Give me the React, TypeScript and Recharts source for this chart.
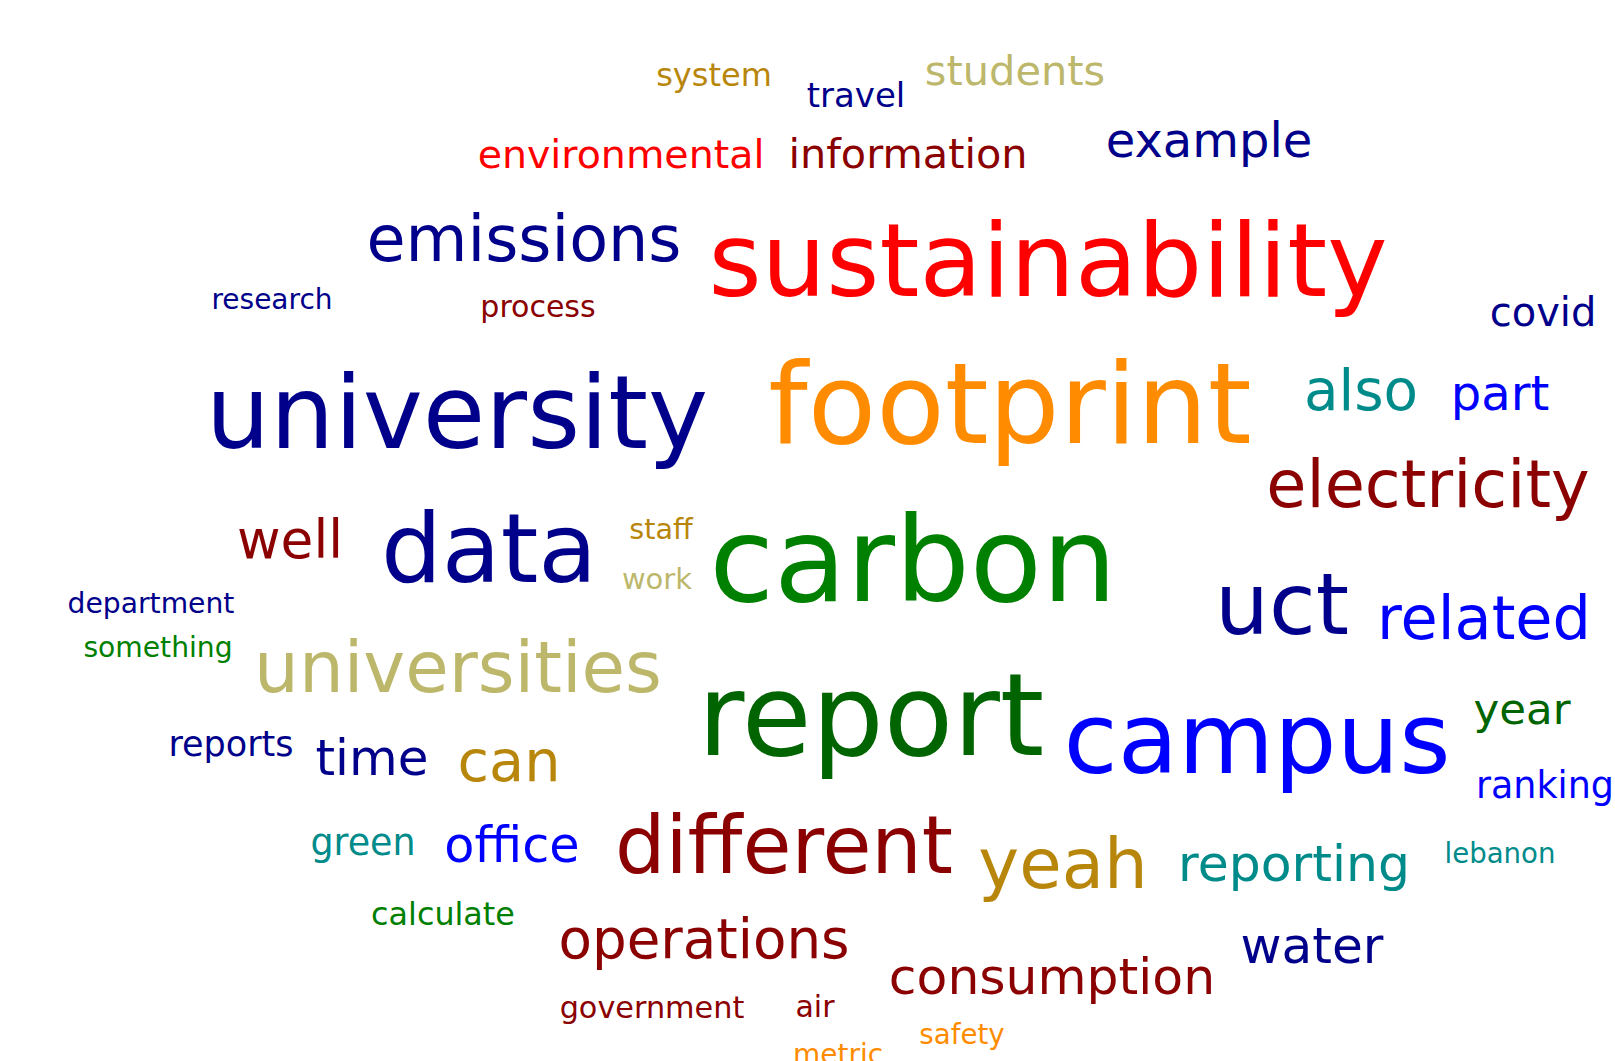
import { ScatterChart, Scatter, XAxis, YAxis, ZAxis } from 'recharts'

// word cloud: term, weight (font px), layout position (x = centre, y = baseline)
const words = [
  'system', 'travel', 'students', 'environmental', 'information', 'example',
  'emissions', 'sustainability', 'research', 'process', 'covid',
  'university', 'footprint', 'also', 'part', 'electricity',
  'well', 'data', 'staff', 'work', 'carbon', 'uct', 'related',
  'department', 'something', 'universities', 'report', 'campus', 'year', 'ranking',
  'reports', 'time', 'can', 'green', 'office', 'different', 'yeah', 'reporting', 'lebanon',
  'calculate', 'operations', 'water', 'consumption', 'government', 'air', 'safety', 'metric',
]

const weights = [
  32, 34, 41.5, 39.5, 41.4, 48,
  63.6, 102, 28, 30, 40,
  101.6, 112, 56.4, 48, 65.3,
  53.3, 96, 28.6, 29, 118, 85, 60.5,
  28.2, 28.2, 70.7, 113.5, 98.6, 43.5, 36.5,
  35, 50, 57.3, 36.4, 49.3, 79.6, 69, 50.4, 27.6,
  31.8, 54.7, 50.2, 50.4, 30.3, 30, 27.7, 28,
]

const posX = [
  714, 856, 1015, 621, 908, 1209,
  524, 1048, 272, 538, 1543,
  457, 1010, 1361, 1500, 1428,
  290, 489, 661, 657, 913, 1282, 1484,
  151, 158, 458, 871, 1257, 1522, 1545,
  231, 372, 509, 363, 512, 784, 1063, 1294, 1500,
  443, 704, 1312, 1052, 652, 815, 962, 838,
]

const posY = [
  86, 107, 85, 168, 168, 157,
  261, 296, 309, 317, 326,
  448, 443, 410, 410, 507,
  558, 582, 539, 589, 601, 634, 639,
  613, 657, 692, 755, 773, 724, 798,
  756, 775, 781, 855, 862, 873, 888, 881, 863,
  925, 958, 963, 994, 1018, 1017, 1044, 1064,
]

const NAVY = '#00008B'
const BLUE = '#0000FF'
const RED = '#FF0000'
const DARKRED = '#8B0000'
const ORANGE = '#FF8C00'
const GREEN = '#008000'
const DARKGREEN = '#006400'
const KHAKI = '#BDB76B'
const GOLD = '#B8860B'
const CYAN = '#008B8B'

const wordColors = [
  GOLD, NAVY, KHAKI, RED, DARKRED, NAVY,
  NAVY, RED, NAVY, DARKRED, NAVY,
  NAVY, ORANGE, CYAN, BLUE, DARKRED,
  DARKRED, NAVY, GOLD, KHAKI, GREEN, NAVY, BLUE,
  NAVY, GREEN, KHAKI, DARKGREEN, BLUE, DARKGREEN, BLUE,
  NAVY, NAVY, GOLD, CYAN, BLUE, DARKRED, GOLD, CYAN, CYAN,
  GREEN, DARKRED, NAVY, DARKRED, DARKRED, DARKRED, ORANGE, ORANGE,
]

const cloud = words.map((w, i) => ({ word: w, x: posX[i], y: posY[i], z: weights[i], color: wordColors[i] }))

// eslint-disable-next-line @typescript-eslint/no-explicit-any
const WordShape = (props: any) => {
  const { cx, cy, payload } = props
  const size = typeof props.size === 'number' && props.size > 0 ? props.size : payload.z
  return (
    <text
      x={cx}
      y={cy}
      textAnchor="middle"
      fontFamily="'DejaVu Sans', Verdana, sans-serif"
      fontSize={size}
      fill={payload.color}
    >
      {payload.word}
    </text>
  )
}

export default function App() {
  return (
    <div style={{ position: 'fixed', left: 0, top: 0, width: 1615, height: 1061, background: '#fff' }}>
      <ScatterChart width={1615} height={1061} margin={{ top: 0, right: 0, bottom: 0, left: 0 }}>
        <XAxis type="number" dataKey="x" domain={[0, 1615]} hide allowDataOverflow />
        <YAxis type="number" dataKey="y" domain={[0, 1061]} reversed hide allowDataOverflow />
        <ZAxis type="number" dataKey="z" domain={[0, 120]} range={[0, 120]} />
        <Scatter data={cloud} shape={WordShape} isAnimationActive={false} />
      </ScatterChart>
    </div>
  )
}
